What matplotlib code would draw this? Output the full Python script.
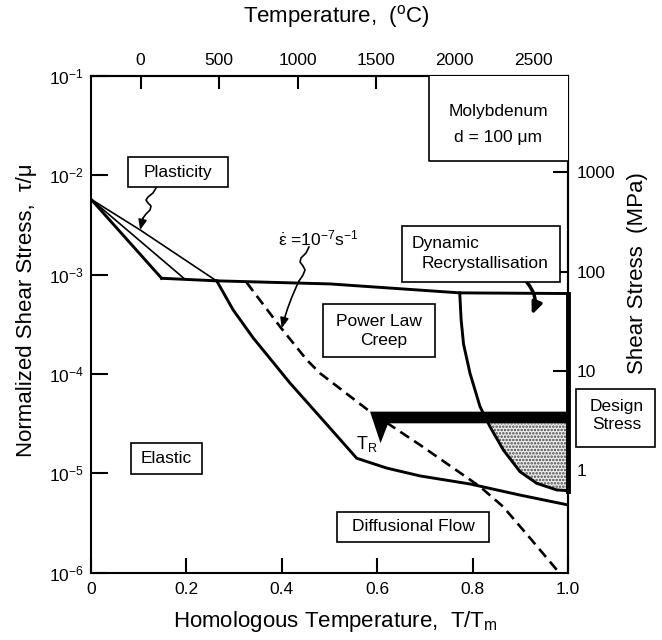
import numpy as np
import matplotlib
matplotlib.use("Agg")
import matplotlib.pyplot as plt
from matplotlib.patches import Rectangle
from matplotlib.lines import Line2D
from matplotlib.ticker import NullLocator

plt.rcParams['font.family'] = ['Liberation Sans', 'DejaVu Sans']
plt.rcParams['mathtext.fontset'] = 'custom'
plt.rcParams['mathtext.rm'] = 'Liberation Sans'
plt.rcParams['mathtext.it'] = 'Liberation Sans:italic'
plt.rcParams['mathtext.bf'] = 'Liberation Sans:bold'
plt.rcParams['hatch.linewidth'] = 1.2

W, H = 662, 640

# field boundaries: homologous temperature T/Tm vs normalized shear stress tau/mu
plast_low_x = [0.0, 0.148]
plast_low_y = [5.75e-3, 9.2e-4]
plast_mid_x = [0.0, 0.197]
plast_mid_y = [5.75e-3, 9.0e-4]
plast_top_x = [0.0, 0.103, 0.263]
plast_top_y = [5.75e-3, 2.82e-3, 8.67e-4]

yield_x = [0.148, 0.263, 0.501, 0.773, 1.0]
yield_y = [9.2e-4, 8.67e-4, 8.07e-4, 6.56e-4, 6.46e-4]

creep_x = [0.2635, 0.298, 0.340, 0.417, 0.501, 0.557, 0.620, 0.690, 0.795, 0.899, 1.0]
creep_y = [8.67e-4, 4.42e-4, 2.31e-4, 8.13e-5, 2.86e-5, 1.42e-5, 1.13e-5, 9.42e-6,
           7.81e-6, 6.05e-6, 4.81e-6]

# strain rate contour 1e-7 /s
rate_x = [0.3264, 0.3962, 0.4522, 0.480, 0.585, 0.690, 0.8155, 0.864, 0.924, 0.980]
rate_y = [8.32e-4, 3.00e-4, 1.39e-4, 1.02e-4, 4.18e-5, 1.93e-5, 7.35e-6, 4.62e-6,
          2.13e-6, 1.02e-6]

# dynamic recrystallisation boundary
drx_x = [0.773, 0.776, 0.781, 0.7945, 0.8155, 0.8365, 0.8644, 0.8994, 0.9344, 0.9763, 1.0]
drx_y = [6.56e-4, 3.5e-4, 2.0e-4, 1.02e-4, 4.70e-5, 2.95e-5, 1.72e-5, 1.04e-5,
         7.94e-6, 6.81e-6, 6.7e-6]

# design stress band and the T_R marker hanging from it
design_x0 = 0.585
design_lo, design_hi = 3.19e-5, 4.18e-5
tr_tip_x, tr_tip_y = 0.607, 2.01e-5
tr_right_x = 0.623

mu_mpa = 9.3e4                 # shear modulus, MPa
tc_scale, tc_zero = 3037.0, 0.104

x_ticks = [0, 0.2, 0.4, 0.6, 0.8, 1.0]
x_labels = ['0', '0.2', '0.4', '0.6', '0.8', '1.0']
y_ticks = [1e-6, 1e-5, 1e-4, 1e-3, 1e-2, 1e-1]
y_labels = [r'$10^{-6}$', r'$10^{-5}$', r'$10^{-4}$', r'$10^{-3}$', r'$10^{-2}$', r'$10^{-1}$']
tc_ticks = [0, 500, 1000, 1500, 2000, 2500]
mpa_ticks = [1, 10, 100, 1000]

fig = plt.figure(figsize=(W / 100, H / 100), dpi=100)
ax = fig.add_axes([91 / W, 1 - 572.7 / H, 477 / W, 496.7 / H])
ax.set_yscale('log')
ax.set_xlim(0, 1)
ax.set_ylim(1e-6, 1e-1)


def fp(x, y):
    return (x / W, 1 - y / H)


# stippled dynamic recrystallisation field below the design band
ly = np.log10(drx_y[::-1])
x_cut = np.interp(np.log10(design_lo), ly, drx_x[::-1])
low = [(x, y) for x, y in zip(drx_x, drx_y) if y < design_lo]
px = [x_cut, 1.0, 1.0] + [p[0] for p in low[::-1]]
py = [design_lo, design_lo, drx_y[-1]] + [p[1] for p in low[::-1]]
ax.fill(px, py, facecolor='#eeeeee', edgecolor='#444444', hatch='.....', lw=0, zorder=1)

# lines
ax.plot(plast_low_x, plast_low_y, color='k', lw=2.1)
ax.plot(plast_mid_x, plast_mid_y, color='k', lw=1.2)
ax.plot(plast_top_x, plast_top_y, color='k', lw=1.2)
ax.plot(yield_x, yield_y, color='k', lw=2.1)
ax.plot(creep_x, creep_y, color='k', lw=2.1)
ax.plot(rate_x, rate_y, color='k', lw=1.9, ls=(0, (4, 2.3)))
ax.plot(drx_x, drx_y, color='k', lw=2.1)
ax.plot([1.0, 1.0], [yield_y[-1], drx_y[-1]], color='k', lw=3.5, clip_on=False, zorder=4)

ax.fill([design_x0, 1.0, 1.0, tr_right_x, tr_tip_x],
        [design_hi, design_hi, design_lo, design_lo, tr_tip_y],
        color='k', lw=0, zorder=3)

# axes styling
for s in ax.spines.values():
    s.set_linewidth(1.5)
ax.set_xticks(x_ticks)
ax.set_xticklabels(x_labels)
ax.set_yticks(y_ticks)
ax.set_yticklabels(y_labels)
ax.yaxis.set_minor_locator(NullLocator())
ax.tick_params(axis='x', direction='in', length=11, width=1.5, pad=7, labelsize=12.5)
ax.tick_params(axis='y', direction='in', length=12, width=1.5, pad=5, labelsize=12.5)

top = ax.secondary_xaxis('top', functions=(lambda x: (x - tc_zero) * tc_scale,
                                           lambda t: t / tc_scale + tc_zero))
top.set_xticks(tc_ticks)
top.set_xticklabels([str(t) for t in tc_ticks])
top.tick_params(direction='in', length=9.5, width=1.5, pad=6, labelsize=12.5)
top.spines['top'].set_linewidth(1.5)

right = ax.secondary_yaxis('right', functions=(lambda y: y * mu_mpa, lambda m: m / mu_mpa))
right.set_yticks(mpa_ticks)
right.set_yticklabels([str(m) for m in mpa_ticks])
right.yaxis.set_minor_locator(NullLocator())
right.tick_params(direction='in', length=11, width=1.5, pad=6, labelsize=12.5)
right.spines['right'].set_linewidth(1.5)

# axis titles
fig.text(*fp(336.5, 17), 'Temperature,  ($^{\\mathrm{o}}$C)', fontsize=16, ha='center', va='center')
fig.text(*fp(335.5, 627.5), 'Homologous Temperature,  T/T$_\\mathrm{m}$', fontsize=16,
         ha='center', va='baseline')
fig.text(*fp(27, 310), 'Normalized Shear Stress,  τ/μ', fontsize=16, rotation=90,
         ha='center', va='center')
fig.text(*fp(638, 273), 'Shear Stress  (MPa)', fontsize=16, rotation=90, ha='center', va='center')


def box(x0, y0, x1, y1, sides='all'):
    if sides == 'all':
        fig.add_artist(Rectangle(fp(x0, y1), (x1 - x0) / W, (y1 - y0) / H,
                                 transform=fig.transFigure, fc='white', ec='k', lw=1.2,
                                 zorder=5))
    else:
        fig.add_artist(Rectangle(fp(x0, y1), (x1 - x0) / W, (y1 - y0) / H,
                                 transform=fig.transFigure, fc='white', ec='none', zorder=5))
        xs, ys = zip(fp(x0, y0), fp(x0, y1), fp(x1, y1))
        fig.add_artist(Line2D(xs, ys, color='k', lw=1.2, transform=fig.transFigure, zorder=6))


def label(x, y, s, ha='center', size=12.5):
    fig.text(*fp(x, y), s, fontsize=size, ha=ha, va='center', zorder=7)


box(127.7, 157.3, 227.7, 187.3)
label(178, 172, 'Plasticity')
box(429, 76, 568, 161, sides='lb')
label(498.5, 111.7, 'Molybdenum')
label(498.5, 137.3, 'd = 100 μm')
box(401.7, 225.7, 560, 281.7)
label(411.7, 243.3, 'Dynamic', ha='left')
label(421.7, 263.3, 'Recrystallisation', ha='left')
box(323, 304, 435, 357)
label(379, 321.7, 'Power Law')
label(384, 340, 'Creep')
box(130.7, 442.7, 201.7, 474)
label(166, 458.3, 'Elastic')
box(337.3, 511.7, 489.3, 541.7)
label(413.3, 526.7, 'Diffusional Flow')
box(576, 389.3, 655, 446.7)
label(616.7, 406, 'Design')
label(616.7, 424.3, 'Stress')
label(367, 444, 'T$_\\mathrm{R}$', size=13)
label(318, 238, r'$\dot{\mathrm{ε}}$ =10$^{-7}$s$^{-1}$', size=12.5)


def squiggle(pts, tip, rad=0.0):
    xs, ys = zip(*[fp(*p) for p in pts])
    fig.add_artist(Line2D(xs, ys, color='k', lw=1.2, transform=fig.transFigure, zorder=6,
                          solid_joinstyle='round'))
    ax.annotate('', xy=tip, xycoords='data', xytext=fp(*pts[-1]), textcoords='figure fraction',
                arrowprops=dict(arrowstyle='-|>,head_length=0.6,head_width=0.25', color='k',
                                lw=1.2, shrinkA=0, shrinkB=0,
                                connectionstyle='arc3,rad=%g' % rad), zorder=6)


squiggle([(156, 188), (153, 193), (148, 197), (146, 200), (148, 203), (151, 206),
          (150, 210), (146, 214), (143, 218)],
         (plast_top_x[1], plast_top_y[1]))
squiggle([(309, 247), (306, 253), (301, 258), (300, 262), (303, 266), (305, 270),
          (303, 275), (299, 281)],
         (0.40, 2.9e-4), rad=0.05)

ax.annotate('', xy=(0.924, 3.94e-4), xycoords='data', xytext=fp(526.7, 282),
            textcoords='figure fraction',
            arrowprops=dict(arrowstyle='-|>,head_length=0.7,head_width=0.3', color='k', lw=2.5,
                            shrinkA=0, shrinkB=0, connectionstyle='arc3,rad=-0.3'), zorder=6)

fig.savefig('out.png', dpi=100)
